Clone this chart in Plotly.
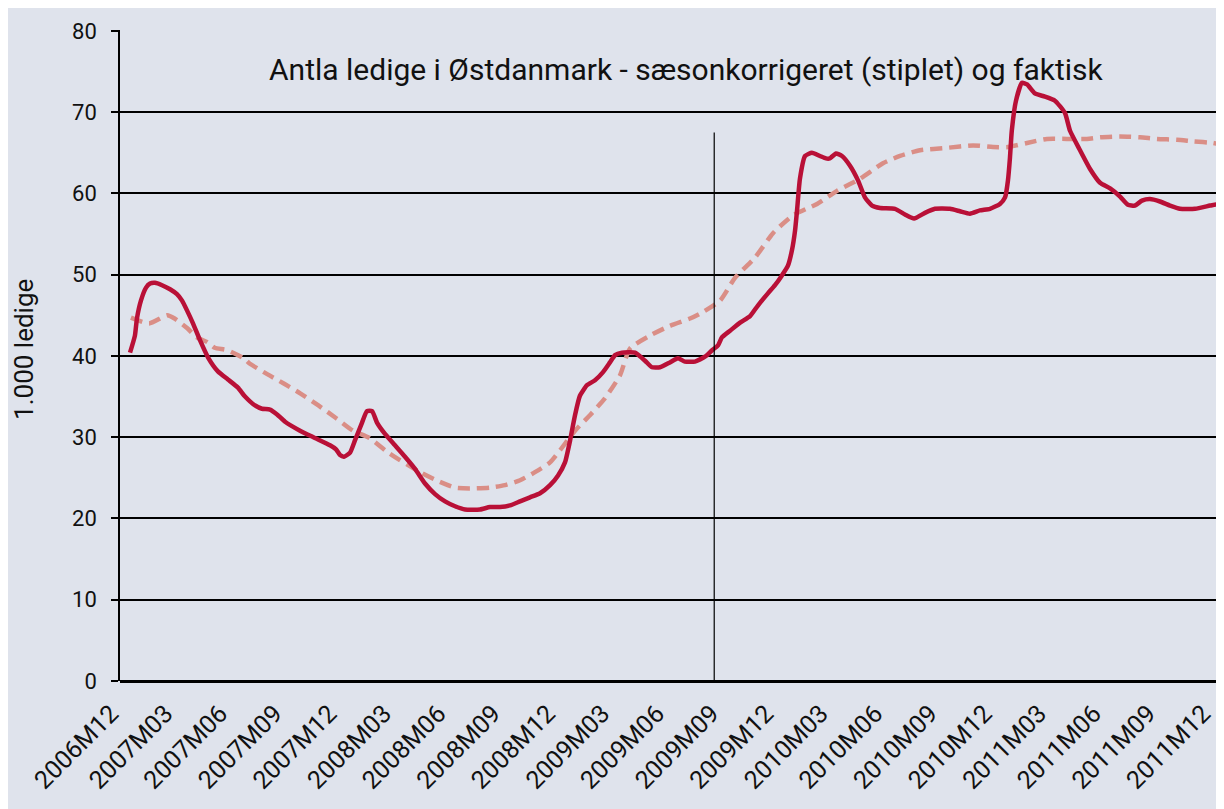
import plotly.graph_objects as go

# Month index: 0 = 2006M12, 3 = 2007M03, ... 60 = 2011M12
tick_months = list(range(0, 61, 3))
tick_labels = ["2006M12", "2007M03", "2007M06", "2007M09", "2007M12", "2008M03", "2008M06",
               "2008M09", "2008M12", "2009M03", "2009M06", "2009M09", "2009M12", "2010M03",
               "2010M06", "2010M09", "2010M12", "2011M03", "2011M06", "2011M09", "2011M12"]

# Actual unemployment (faktisk), 1.000 persons
actual_month = [0.55, 0.82, 0.93, 1.15, 1.43, 1.65, 1.92, 2.31, 2.75, 3.13, 3.41, 3.68, 4.01, 4.40,
                4.84, 5.38, 5.93, 6.48, 6.87, 7.42, 7.80, 8.24, 8.63, 9.07, 9.89, 10.71, 11.54,
                11.87, 12.09, 12.31, 12.64, 12.91, 13.30, 13.57, 13.85, 14.12, 14.56, 15.11,
                15.66, 16.21, 16.76, 17.31, 17.86, 18.41, 18.96, 19.78, 20.33, 20.88, 21.43,
                21.98, 22.53, 23.08, 23.63, 24.07, 24.45, 24.73, 25.00, 25.27, 25.66, 26.10,
                26.54, 26.92, 27.20, 27.58, 28.30, 28.85, 29.23, 29.67, 30.22, 30.66, 31.04,
                31.59, 32.14, 32.53, 32.86, 33.08, 33.52, 34.07, 34.62, 35.05, 35.60, 35.99,
                36.37, 36.70, 36.92, 37.09, 37.20, 37.36, 37.64, 38.02, 38.46, 38.79, 39.00,
                39.34, 39.67, 40.11, 40.55, 40.93, 41.32, 41.76, 42.58, 43.13, 43.63, 44.23,
                44.78, 45.60, 46.15, 46.70, 47.25, 47.80, 48.35, 48.63, 48.79, 48.90, 49.00,
                49.23, 49.56, 49.84, 50.27, 50.82, 51.37, 51.92, 52.20, 52.75, 53.30, 53.85,
                54.40, 54.95, 55.38, 55.77, 56.15, 56.59, 57.14, 57.69, 58.24, 59.07, 59.89,
                60.33, 60.66]
actual_value = [40.4, 42.5, 44.6, 46.8, 48.4, 48.9, 49.0, 48.7, 48.2, 47.6, 46.8, 45.6, 44.0, 41.9,
                39.8, 38.1, 37.1, 36.1, 35.0, 33.9, 33.5, 33.4, 32.8, 31.9, 30.8, 29.9, 29.0,
                28.5, 27.8, 27.6, 28.1, 29.6, 31.8, 33.2, 33.2, 31.8, 30.4, 29.0,
                27.6, 26.1, 24.3, 23.0, 22.1, 21.5, 21.1, 21.1, 21.4, 21.4, 21.6,
                22.1, 22.6, 23.1, 24.1, 25.3, 26.9, 29.6, 32.7, 35.1, 36.4, 37.0,
                38.0, 39.2, 40.1, 40.4, 40.4, 39.4, 38.6, 38.6, 39.2, 39.7, 39.3,
                39.3, 39.9, 40.7, 41.3, 42.3, 43.1, 44.1, 44.9, 46.2, 47.7, 48.7,
                49.9, 51.1, 53.0, 55.4, 57.9, 61.8, 64.6, 65.0, 64.6, 64.3, 64.3,
                64.9, 64.6, 63.4, 61.6, 59.5, 58.5, 58.2, 58.1, 57.4, 56.9, 57.6,
                58.1, 58.1, 57.8, 57.5, 57.9, 58.1, 58.7, 59.5, 61.6, 64.4, 67.7,
                71.4, 73.6, 73.4, 72.3, 71.9, 71.4, 69.9, 67.7, 65.3, 63.0, 61.3,
                60.6, 59.6, 58.6, 58.5, 59.1, 59.3, 59.0, 58.5, 58.1, 58.1, 58.5,
                58.7, 59.4]

# Seasonally adjusted (sæsonkorrigeret, stiplet)
sa_month = [0.6, 1.6, 2.6, 3.0, 3.7, 4.2, 4.8, 5.2, 5.9, 6.8, 7.1, 7.9, 9.0, 9.9, 10.9, 11.9,
            12.8, 13.7, 14.8, 16.48, 17.58, 18.41, 19.23, 20.33, 21.15, 21.98, 22.8, 23.63,
            24.18, 25.0, 25.82, 26.65, 27.47, 28.02, 29.12, 30.22, 31.32, 31.87, 32.97,
            33.79, 34.89, 35.88, 36.98, 38.30, 39.40, 40.66, 41.92, 42.86, 43.96, 45.44,
            46.87, 47.97, 48.79, 49.84, 50.93, 52.03, 53.13, 53.85, 54.95, 56.04, 56.98,
            58.08, 58.96, 60.05, 60.66]
sa_value = [44.7, 44.0, 45.0, 44.6, 43.4, 42.3, 41.7, 41.0, 40.7, 39.7, 39.1, 38.0, 36.6, 35.4,
            33.9, 32.3, 30.8, 29.9, 28.0, 25.7, 24.5, 23.8, 23.7, 23.8, 24.1, 24.7, 25.7, 26.9,
            28.4, 30.8, 32.7, 34.8, 37.6, 40.9, 42.5, 43.7, 44.6, 45.2, 46.8,
            49.6, 52.1, 55.1, 57.3, 58.7, 60.3, 61.8, 63.7, 64.6, 65.3, 65.6,
            65.9, 65.7, 65.7, 66.2, 66.7, 66.7, 66.7, 66.9, 67.0, 66.9, 66.7,
            66.6, 66.4, 66.2, 65.9]

marker_month = 32.65     # vertical separator line (2009M09)
marker_top = 67.5

title_text = "Antla ledige i Østdanmark - sæsonkorrigeret (stiplet) og faktisk"
y_title = "1.000 ledige"

bg = "rgb(223,227,236)"
red = "rgb(185,16,55)"
salmon = "rgb(218,142,134)"
font_family = "Roboto, 'DejaVu Sans', sans-serif"

fig = go.Figure()
fig.add_trace(go.Scatter(x=sa_month, y=sa_value, mode="lines",
                         line=dict(color=salmon, width=4.5, dash="12px,7px", shape="spline", smoothing=0.6),
                         hoverinfo="skip", showlegend=False))
fig.add_trace(go.Scatter(x=actual_month, y=actual_value, mode="lines",
                         line=dict(color=red, width=4.5, shape="spline", smoothing=0.5),
                         hoverinfo="skip", showlegend=False))

fig.add_shape(type="line", x0=marker_month, x1=marker_month, y0=0, y1=marker_top,
              xref="x", yref="y", line=dict(color="black", width=1.2), layer="above")

fig.add_annotation(text=title_text, xref="paper", yref="paper", x=0.513, y=0.939,
                   showarrow=False, font=dict(family=font_family, size=30, color="#111"),
                   xanchor="center", yanchor="middle")
fig.add_annotation(text=y_title, xref="paper", yref="paper", x=-0.087, y=0.51,
                   showarrow=False, textangle=-90, font=dict(family=font_family, size=26, color="#111"),
                   xanchor="center", yanchor="middle")

fig.update_layout(
    width=1216, height=801,
    paper_bgcolor=bg, plot_bgcolor=bg,
    margin=dict(l=112, r=0, t=22, b=128, autoexpand=False),
    font=dict(family=font_family, color="#111"),
    xaxis=dict(range=[0, 60.66], tickmode="array", tickvals=tick_months, ticktext=tick_labels,
               tickangle=-45, tickfont=dict(size=25), showgrid=False, zeroline=False,
               showline=False, ticks="", automargin=False, ticklabelstandoff=12,
               ticklabelshift=-9, ticklabeloverflow="allow"),
    yaxis=dict(range=[0, 80.1], tickmode="array", tickvals=list(range(0, 81, 10)),
               tickfont=dict(size=22), showgrid=True, gridcolor="black", gridwidth=1.5,
               zeroline=True, zerolinecolor="black", zerolinewidth=2.5,
               showline=True, linecolor="black", linewidth=1.5, automargin=False,
               ticks="outside", ticklen=7, tickcolor="black", tickwidth=1.5,
               ticklabelstandoff=10),
)

fig.write_html("out.html")
